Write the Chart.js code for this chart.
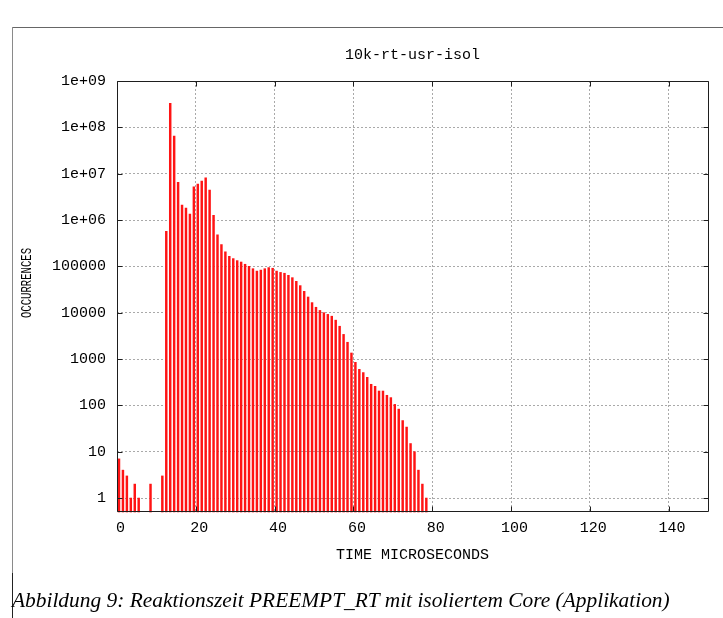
<!DOCTYPE html>
<html>
<head>
<meta charset="utf-8">
<script src="https://cdn.jsdelivr.net/npm/chart.js@4/dist/chart.umd.min.js"></script>
<style>
  html, body { margin: 0; padding: 0; background: #fff; }
  #wrap { position: relative; width: 723px; height: 618px; overflow: hidden; background: #fff; }
  #c { position: absolute; left: 0; top: 0; width: 723px; height: 575px; }
  .rule-top { position: absolute; left: 12px; top: 27px; width: 711px; height: 1px; background: #666; }
  .rule-left { position: absolute; left: 12px; top: 27px; width: 1px; height: 548px; background: #8a8a8a; }
  .cursor { position: absolute; left: 12px; top: 573px; width: 1px; height: 45px; background: #222; }
  #caption { position: absolute; left: 12px; top: 588px; font-family: "Liberation Serif", serif; font-style: italic;
             font-size: 21.4px; line-height: 24px; white-space: nowrap; color: #000; }
</style>
</head>
<body>
<div id="wrap">
  <canvas id="c" width="723" height="575"></canvas>
  <div class="rule-top"></div>
  <div class="rule-left"></div>
  <div class="cursor"></div>
  <div id="caption">Abbildung 9: Reaktionszeit PREEMPT_RT mit isoliertem Core (Applikation)</div>
</div>
<script>
// Latency histogram: occurrences per microsecond bin
const titleText = '10k-rt-usr-isol';
const xLabel = 'TIME MICROSECONDS';
const yLabel = 'OCCURRENCES';

const latencyUs = [0, 1, 2, 3, 4, 5, 8, 11, 12, 13, 14, 15, 16, 17, 18, 19, 20, 21, 22, 23, 24, 25,
  26, 27, 28, 29, 30, 31, 32, 33, 34, 35, 36, 37, 38, 39, 40, 41, 42, 43, 44, 45, 46, 47, 48, 49, 50,
  51, 52, 53, 54, 55, 56, 57, 58, 59, 60, 61, 62, 63, 64, 65, 66, 67, 68, 69, 70, 71, 72, 73, 74, 75,
  76, 77, 78];
const occurrences = [7, 4, 3, 1, 2, 1, 2, 3, 570000, 330000000, 65000000, 6500000, 2100000, 1800000,
  1340000, 5200000, 6000000, 6900000, 8100000, 4400000, 1260000, 480000,
  295000, 205000, 165000, 147000, 133000, 124000, 111000, 100000, 89000, 79000, 83000, 89000, 94000,
  91000, 79000, 74000, 71000, 64000, 57000, 47500, 38400, 28900, 21800, 16500, 13100,
  11200, 10000, 9200, 8400, 6900, 5100, 3400, 2300, 1350, 850, 600, 510, 403, 285, 258, 204, 204,
  165, 147, 105, 83, 47, 34, 15, 10, 4, 2, 1];

const xTicks = [0, 20, 40, 60, 80, 100, 120, 140];
const yTicks = [1e9, 1e8, 1e7, 1e6, 1e5, 1e4, 1e3, 100, 10, 1];
const yTickLabels = ['1e+09', '1e+08', '1e+07', '1e+06', '100000', '10000', '1000', '100', '10', '1'];

const monoFont = '"Liberation Mono", monospace';
const gridGray = '#a9a9a9';

// Thick impulses are rasterised to the right of their x position, like gnuplot's png terminal
const impulseShift = {
  id: 'impulseShift',
  beforeDatasetsDraw(chart) { chart.ctx.save(); chart.ctx.translate(2, 0); },
  afterDatasetsDraw(chart) { chart.ctx.restore(); }
};

// Plot border with inward tick marks on all four sides, drawn over the impulses
const gnuFrame = {
  id: 'gnuFrame',
  afterDatasetsDraw(chart) {
    const { ctx, chartArea: a, scales: { x, y } } = chart;
    const L = a.left + 0.5, R = a.right + 0.5, T = a.top + 0.5, B = a.bottom - 0.5;
    const len = 5;
    ctx.save();
    ctx.strokeStyle = '#1e1e1e';
    ctx.lineWidth = 1;
    ctx.beginPath();
    ctx.rect(L, T, R - L, B - T);
    x.ticks.forEach(t => {
      const px = Math.round(x.getPixelForValue(t.value)) + 0.5;
      ctx.moveTo(px, B); ctx.lineTo(px, B - len);
      ctx.moveTo(px, T); ctx.lineTo(px, T + len);
    });
    y.ticks.forEach(t => {
      const py = Math.round(y.getPixelForValue(t.value)) + 0.5;
      ctx.moveTo(L, py); ctx.lineTo(L + len, py);
      ctx.moveTo(R, py); ctx.lineTo(R - len, py);
    });
    ctx.stroke();

    // rotated y-axis label, tall narrow glyphs
    ctx.fillStyle = '#000';
    ctx.font = '14px ' + monoFont;
    ctx.textAlign = 'center';
    ctx.textBaseline = 'middle';
    ctx.translate(27, 283);
    ctx.rotate(-Math.PI / 2);
    ctx.scale(0.76, 1);
    ctx.fillText(yLabel, 0, 0);
    ctx.restore();
  }
};

new Chart(document.getElementById('c'), {
  type: 'bar',
  data: {
    datasets: [{
      data: latencyUs.map((t, i) => ({ x: t, y: occurrences[i] })),
      backgroundColor: '#ff1414',
      borderWidth: 0,
      barThickness: 1.8,
      clip: false
    }]
  },
  options: {
    responsive: false,
    devicePixelRatio: 1,
    animation: false,
    layout: { padding: { left: 0, right: 15, top: 0, bottom: 0 } },
    plugins: {
      legend: { display: false },
      tooltip: { enabled: false },
      title: {
        display: true,
        text: titleText,
        fullSize: false,
        color: '#000',
        font: { family: monoFont, size: 15, weight: 'normal', lineHeight: 1.2 },
        padding: { top: 46, bottom: 17 }
      }
    },
    scales: {
      x: {
        type: 'linear',
        offset: false,
        min: 0,
        max: 150,
        afterBuildTicks: s => { s.ticks = xTicks.map(v => ({ value: v })); },
        afterFit: s => { s.height = 63; },
        grid: {
          offset: false,
          drawTicks: false,
          color: c => (c.tick && c.tick.value === 0) ? 'rgba(0,0,0,0)' : gridGray
        },
        border: { display: false, dash: [2, 2] },
        ticks: {
          padding: 7, labelOffset: 3.5, autoSkip: false, maxRotation: 0, color: '#000',
          font: { family: monoFont, size: 15, lineHeight: 1.2 },
          callback: v => String(v)
        },
        title: {
          display: true, text: xLabel, color: '#000',
          font: { family: monoFont, size: 15, lineHeight: 1.2 },
          padding: { top: 0, bottom: 11 }
        }
      },
      y: {
        type: 'logarithmic',
        min: 0.5,
        max: 1e9,
        afterBuildTicks: s => { s.ticks = yTicks.map(v => ({ value: v })); },
        afterFit: s => { s.width = 117; },
        grid: {
          drawTicks: false,
          color: c => (c.tick && c.tick.value === 1e9) ? 'rgba(0,0,0,0)' : gridGray
        },
        border: { display: false, dash: [2, 2] },
        ticks: {
          padding: 11, autoSkip: false, color: '#000',
          font: { family: monoFont, size: 15, lineHeight: 1.2 },
          callback: v => {
            const k = yTicks.indexOf(v);
            return k >= 0 ? yTickLabels[k] : '';
          }
        }
      }
    }
  },
  plugins: [impulseShift, gnuFrame]
});
</script>
</body>
</html>
